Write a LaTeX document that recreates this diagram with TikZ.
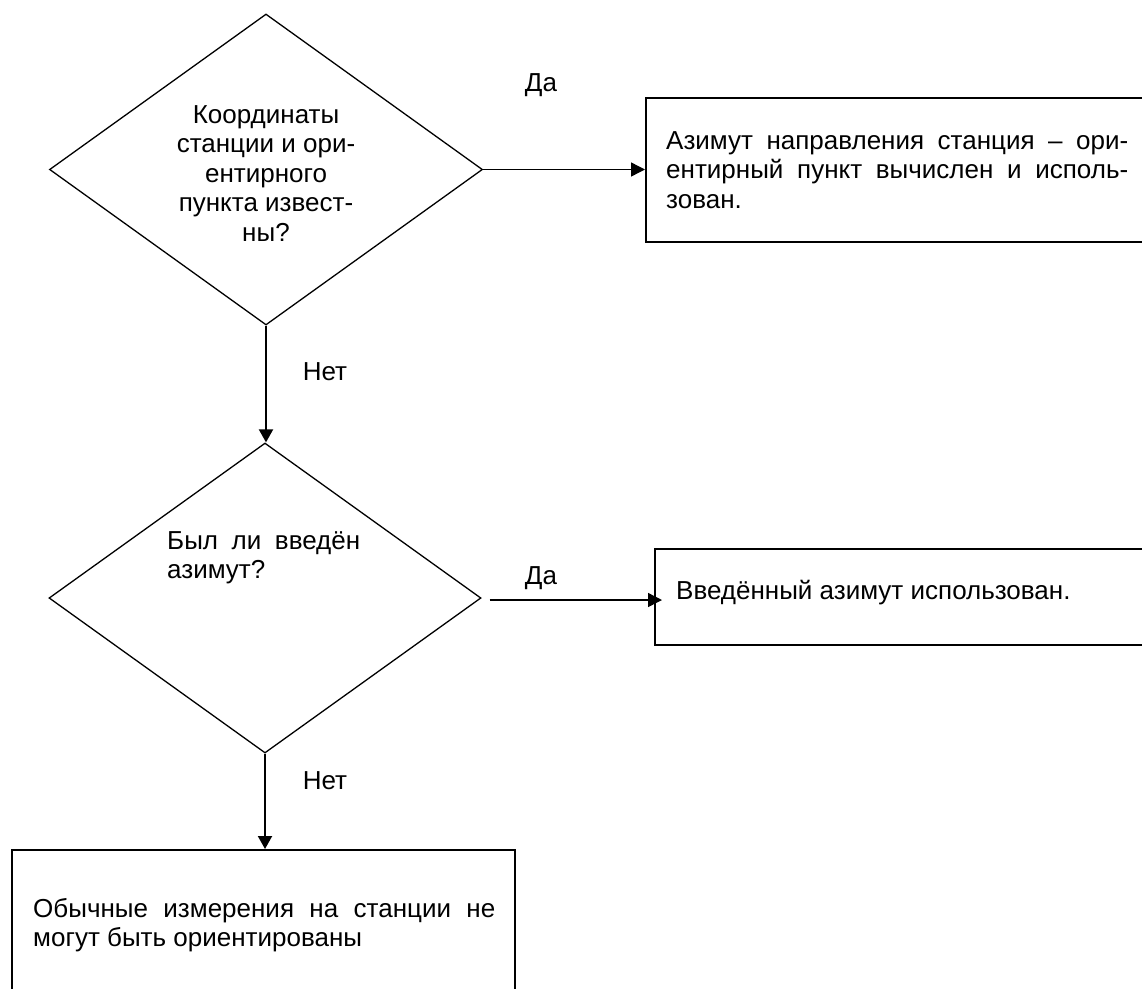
\documentclass[tikz,border=0pt]{standalone}
\usepackage{fontspec}
\setmainfont{Liberation Sans}
\usetikzlibrary{positioning, shapes.geometric, arrows.meta}
\hyphenpenalty=10000
\exhyphenpenalty=10000

\begin{document}
\begin{tikzpicture}[x=1pt,y=-1pt,
    every node/.style={font=\fontsize{26}{29.5}\selectfont, inner sep=0pt},
    decision/.style={draw, diamond, line width=1.3pt, minimum width=433pt, minimum height=311pt},
    resultbox/.style={draw, rectangle, line width=1.6pt, anchor=north west},
    flowarrow/.style={line width=1.4pt, -{Triangle[length=14pt,width=14pt]}},
    downarrow/.style={line width=2pt, -{Triangle[length=13pt,width=14pt]}}]
\clip (0,0) rectangle (1142,988);

% decisions
\node[decision] (q1) at (266,169.5) {};
\node[decision, minimum width=432pt, minimum height=310pt] (q2) at (265,598) {};
\node[align=center] (q1txt) at ([yshift=-4pt]q1.center)
    {Координаты\\станции и ори-\\ентирного\\пункта извест-\\ны?};
\node[text width=193pt, align=justify, anchor=north west] (q2txt) at (167,531)
    {Был ли введён азимут?};

% results
\node[resultbox, minimum width=520pt, minimum height=144pt] (res1) at (645,97) {};
\node[resultbox, minimum width=510pt, minimum height=96pt] (res2) at (654,548) {};
\node[resultbox, minimum width=503pt, minimum height=170pt] (res3) at (11,849) {};
\node[text width=462pt, align=justify, anchor=west] (res1txt) at ([xshift=21pt]res1.west)
    {Азимут направления станция – ори-\linebreak ентирный пункт вычислен и исполь-\linebreak зован.};
\node[anchor=west] (res2txt) at ([xshift=22pt,yshift=4pt]res2.west)
    {Введённый азимут использован.};
\node[text width=462pt, align=justify, anchor=north west] (res3txt) at (33,898)
    {Обычные измерения на станции не\linebreak могут быть ориентированы};

% connectors
\draw[flowarrow] (q1.east) -- (q1.east -| res1.west);
\draw[flowarrow] ([xshift=8pt,yshift=-2pt]q2.east) -- ([xshift=8pt,yshift=-2pt]q2.east -| res2.west);
\draw[downarrow] (q1.south) -- (q1.south |- q2.north);
\draw[downarrow] (q2.south) -- (q2.south |- res3.north);

% labels
\node (yes1) at (541,85) {Да};
\node (yes2) at (541,578) {Да};
\node (no1) at (325,372) {Нет};
\node (no2) at (325,781) {Нет};
\end{tikzpicture}
\end{document}
